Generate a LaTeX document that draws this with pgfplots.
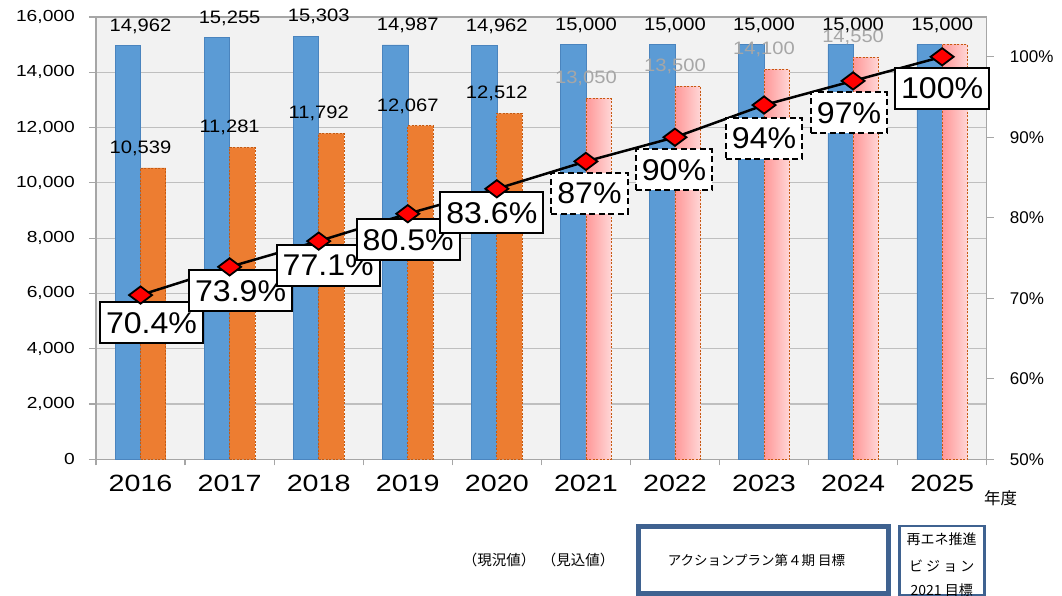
\documentclass[border=0pt]{standalone}
\usepackage{pgfplots}
\usepackage{pgfplotstable}
\pgfplotsset{compat=1.18}
\usepackage{fontspec}
\setmainfont{Liberation Sans}
\newfontfamily\fval[FakeStretch=1.12]{Liberation Sans}
\newfontfamily\fyear[FakeStretch=1.22]{Liberation Sans}
\newfontfamily\ftick[FakeStretch=1.2]{Liberation Sans}
\newfontfamily\fpct[FakeStretch=1.07]{Liberation Sans}
\newfontfamily\jp{Noto Sans CJK JP}
\definecolor{cblue}{HTML}{5B9BD5}
\definecolor{cblueD}{HTML}{4A84BE}
\definecolor{corange}{HTML}{ED7D31}
\definecolor{cbrown}{HTML}{C55A11}
\definecolor{pinkL}{HTML}{FF9797}
\definecolor{pinkR}{HTML}{FFD6D6}
\definecolor{bg}{HTML}{F2F2F2}
\definecolor{gridc}{HTML}{BFBFBF}
\definecolor{axc}{HTML}{A6A6A6}
\definecolor{boxc}{HTML}{3F6290}
\definecolor{lbgray}{HTML}{A6A6A6}

\pgfplotstableread{
x y
0 14962
1 15255
2 15303
3 14987
4 14962
5 15000
6 15000
7 15000
8 15000
9 15000
}\blueT
\pgfplotstableread{
x y
0 10539
1 11281
2 11792
3 12067
4 12512
}\actualT
\pgfplotstableread{
x y
0 70.4
1 73.9
2 77.1
3 80.5
4 83.6
5 87
6 90
7 94
8 97
9 100
}\ratioT

\begin{document}
\begin{tikzpicture}[x=1pt,y=1pt]
\useasboundingbox (0,0) rectangle (1062,596);
\pgfplotsset{
  pinkbar/.style={ybar, bar width=25.3pt, bar shift=12.65pt, left color=pinkL, right color=pinkR, draw=cbrown, line width=0.7pt, dash pattern=on 2pt off 1.5pt},
  graylab/.style={nodes near coords, every node near coord/.append style={font=\fval\fontsize{18}{18}\selectfont, inner sep=0pt, anchor=south, yshift=12pt, text=lbgray, solid}},
  geom/.style={at={(96pt,136.7pt)}, anchor=south west, scale only axis, width=890.7pt, height=442.3pt, xmin=-0.5, xmax=9.5},
}
\tikzset{
  pbox/.style={font=\fpct\fontsize{30}{30}\selectfont, anchor=center, fill=white, draw=black, line width=2pt, inner xsep=6pt, inner ysep=0pt, minimum height=41pt, text height=21.5pt, text depth=0pt, text=black},
  pboxd/.style={pbox, dash pattern=on 6pt off 3.5pt},
}
\begin{axis}[
  geom, ymin=0, ymax=16000,
  axis background/.style={fill=bg},
  axis line style={axc, line width=1.2pt},
  xtick={0,...,9},
  xticklabels={2016,2017,2018,2019,2020,2021,2022,2023,2024,2025},
  minor xtick={-0.5,0.5,...,9.5},
  major x tick style={draw=none},
  minor x tick style={axc, line width=1.2pt},
  y tick style={axc, line width=1.2pt},
  major tick length=7pt, minor tick length=6pt,
  tick align=outside,
  xtick pos=bottom, ytick pos=left,
  ytick={0,2000,...,16000},
  ymajorgrids, grid style={gridc, line width=1.2pt},
  scaled y ticks=false,
  /pgf/number format/1000 sep={,},
  /pgf/number format/assume math mode=true,
  xticklabel style={font=\fyear\fontsize{23.5}{23.5}\selectfont, inner sep=0pt, yshift=-8.5pt, text=black},
  yticklabel style={font=\ftick\fontsize{16}{16}\selectfont, inner sep=0pt, xshift=-14pt, text=black},
]
\addplot[ybar, bar width=25.3pt, bar shift=-12.65pt, fill=cblue, draw=cblueD, line width=0.5pt,
  nodes near coords, every node near coord/.append style={font=\fval\fontsize{18}{18}\selectfont, inner sep=0pt, anchor=south, yshift=12pt, text=black}]
  table[x=x,y=y]{\blueT};
\addplot[ybar, bar width=25.3pt, bar shift=12.65pt, fill=corange, draw=cbrown, line width=0.7pt, dash pattern=on 2pt off 1.5pt,
  nodes near coords, every node near coord/.append style={font=\fval\fontsize{18}{18}\selectfont, inner sep=0pt, anchor=south, yshift=12pt, text=black, solid}]
  table[x=x,y=y]{\actualT};
\addplot[pinkbar, graylab] coordinates {(5,13050)};
\addplot[pinkbar, graylab] coordinates {(6,13500)};
\addplot[pinkbar, graylab] coordinates {(7,14100)};
\addplot[pinkbar, graylab] coordinates {(8,14550)};
\addplot[pinkbar] coordinates {(9,15000)};
\end{axis}
\begin{axis}[
  geom, ymin=50, ymax=104.94,
  axis y line*=right, axis x line=none,
  axis line style={axc, line width=1.2pt},
  y tick style={axc, line width=1.2pt},
  major tick length=7pt, tick align=outside,
  ytick={50,60,...,100},
  yticklabel={\pgfmathprintnumber{\tick}\%},
  /pgf/number format/assume math mode=true,
  yticklabel style={font=\fontsize{17}{17}\selectfont, inner sep=0pt, xshift=16pt, text=black},
  clip=false,
]
\addplot[black, line width=2.5pt, mark=none] table[x=x,y=y]{\ratioT};
\node[pbox, xshift=11pt, yshift=-27.5pt] at (axis cs:0,70.4) {70.4\%};
\node[pbox, xshift=11pt, yshift=-23.5pt] at (axis cs:1,73.9) {73.9\%};
\node[pbox, xshift=9.5pt, yshift=-24pt] at (axis cs:2,77.1) {77.1\%};
\node[pbox, xshift=0.5pt, yshift=-25.7pt] at (axis cs:3,80.5) {80.5\%};
\node[pbox, xshift=-5pt, yshift=-24.2pt] at (axis cs:4,83.6) {83.6\%};
\node[pboxd, xshift=3.6pt, yshift=-31.6pt] at (axis cs:5,87) {87\%};
\node[pboxd, xshift=-1pt, yshift=-32.5pt] at (axis cs:6,90) {90\%};
\node[pboxd, xshift=0pt, yshift=-33pt] at (axis cs:7,94) {94\%};
\node[pboxd, xshift=-4pt, yshift=-32pt] at (axis cs:8,97) {97\%};
\node[pbox, xshift=0pt, yshift=-31.3pt] at (axis cs:9,100) {100\%};
\end{axis}
\begin{axis}[geom, ymin=50, ymax=104.94, hide axis, clip=false]
\addplot[only marks, mark=diamond*, mark size=11.5pt, mark options={rotate=90, fill=red, draw=black, line width=1.8pt, solid}] table[x=x,y=y]{\ratioT};
\end{axis}
% annotations
\node[font=\jp\fontsize{16.5}{16.5}\selectfont, inner sep=0pt] at (1000.5,98) {年度};
\node[font=\jp\fontsize{14.5}{14.5}\selectfont, inner sep=0pt] at (499,36) {（現況値）};
\node[font=\jp\fontsize{14.5}{14.5}\selectfont, inner sep=0pt] at (578,36) {（見込値）};
\draw[boxc, line width=4.7pt] (638.4,69.3) rectangle (888.3,2.4);
\node[font=\jp\fontsize{13.5}{13.5}\selectfont, inner sep=0pt] at (756.5,36) {アクションプラン第４期 目標};
\draw[boxc, line width=2.4pt] (899.5,70) rectangle (984.5,1.2);
\node[font=\jp\fontsize{14}{14}\selectfont, inner sep=0pt] at (941.7,57) {再エネ推進};
\node[font=\jp\fontsize{14}{14}\selectfont, inner sep=0pt] at (941.7,30.3) {ビ ジ ョ ン};
\node[font=\jp\fontsize{14}{14}\selectfont, inner sep=0pt] at (941.7,6) {2021 目標};
\end{tikzpicture}
\end{document}
